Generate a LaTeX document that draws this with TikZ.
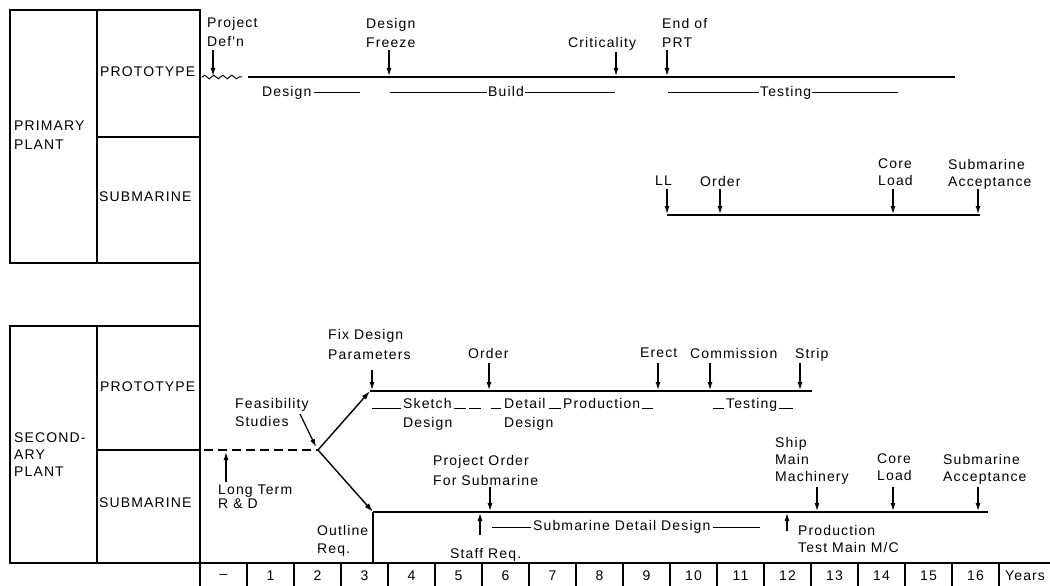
\documentclass[tikz,border=0pt]{standalone}
\usepackage{fontspec}
\newfontfamily\labfont[LetterSpace=8]{Liberation Sans}
\usetikzlibrary{arrows.meta,decorations.pathmorphing}
\begin{document}
\begin{tikzpicture}[x=1pt,y=-1pt,
  lab/.style={font=\labfont\fontsize{14}{19}\selectfont, inner sep=0pt, align=left, anchor=north west},
  labs/.style={lab, font=\labfont\fontsize{14}{17}\selectfont},
  labt/.style={lab, font=\labfont\fontsize{14}{14}\selectfont},
  dl/.style={lab, anchor=west, text height=9pt, text depth=2pt},
  bl/.style={lab, anchor=base west},
  tl/.style={line width=1.4pt},
  boxl/.style={line width=1.5pt},
  arr/.style={line width=1.2pt, -{Latex[length=8pt,width=5pt]}},
  ul/.style={line width=1pt},
  wave/.style={line width=1pt, decorate, decoration={snake, amplitude=1.8pt, segment length=9pt}}]
\useasboundingbox (0,0) rectangle (1050,586);

% ---------- left frame ----------
\draw[boxl] (10,10) rectangle (200,263);
\draw[boxl] (97,10) -- (97,263);
\draw[boxl] (97,137) -- (200,137);
\draw[boxl] (10,326) rectangle (200,563);
\draw[boxl] (97,326) -- (97,563);
\draw[boxl] (97,450) -- (200,450);
\draw[boxl] (200,10) -- (200,586);
\draw[boxl] (10,563) -- (1050,563);
\foreach \k in {1,...,17} \draw[boxl] (200+47*\k,563) -- (200+47*\k,586);

\node[lab, anchor=west] (pp) at (14,135) {PRIMARY\\PLANT};
\node[lab, anchor=west] (ppro) at (100,72) {PROTOTYPE};
\node[lab, anchor=west] (psub) at (99,197) {SUBMARINE};
\node[labs, anchor=west] (sp) at (14,455) {SECOND-\\ARY\\PLANT};
\node[lab, anchor=west] (spro) at (100,387) {PROTOTYPE};
\node[lab, anchor=west] (ssub) at (99,503) {SUBMARINE};

% ---------- time axis ----------
\foreach \t [count=\i from 0] in {–,1,2,3,4,5,6,7,8,9,10,11,12,13,14,15,16}
  \node[lab, anchor=center] (ax\i) at (223.5+47*\i,576) {\t};
\node[lab, anchor=west] (years) at (1005,576) {Years};

% ---------- primary / prototype ----------
\coordinate (w0) at (202,77); \coordinate (w1) at (242,77);
\coordinate (p0) at (248,77); \coordinate (p1) at (955,77);
\draw[wave] (w0) -- (w1);
\draw[tl] (p0) -- (p1);

\node[lab] (pdef) at (207,17) {Project\\Def'n};
\node[lab] (dfr) at (366,18) {Design\\Freeze};
\node[lab] (crit) at (568,37) {Criticality};
\node[lab] (eprt) at (662,18) {End of\\PRT};
\coordinate (a1) at (213,50); \coordinate (b1) at (213,76);
\coordinate (a2) at (389,50); \coordinate (b2) at (389,76);
\coordinate (a3) at (616,52); \coordinate (b3) at (616,76);
\coordinate (a4) at (667,50); \coordinate (b4) at (667,76);
\foreach \n in {1,2,3,4} \draw[arr] (a\n) -- (b\n);

\node[dl] (ldes) at (262,93) {Design};
\coordinate (ldesE) at (360,93);
\draw[ul] (ldes.east) ++(2,0) -- (ldesE);
\node[dl] (lbuild) at (488,93) {Build};
\coordinate (lbuildA) at (390,93); \coordinate (lbuildB) at (615,93);
\draw[ul] (lbuildA) -- ([xshift=-1pt]lbuild.west);
\draw[ul] ([xshift=1pt]lbuild.east) -- (lbuildB);
\node[dl] (ltest) at (760,93) {Testing};
\coordinate (ltestA) at (668,93); \coordinate (ltestB) at (898,93);
\draw[ul] (ltestA) -- ([xshift=-1pt]ltest.west);
\draw[ul] ([xshift=1pt]ltest.east) -- (ltestB);

% ---------- primary / submarine ----------
\coordinate (q0) at (667,215); \coordinate (q1) at (980,215);
\draw[tl] (q0) -- (q1);
\node[lab] (ll) at (655,176) {LL};
\node[lab] (pord) at (700,176) {Order};
\node[labs] (pcore) at (878,159) {Core\\Load};
\node[labs] (pacc) at (948,159) {Submarine\\Acceptance};
\coordinate (c1) at (667,189); \coordinate (d1) at (667,214);
\coordinate (c2) at (720,189); \coordinate (d2) at (720,214);
\coordinate (c3) at (893,189); \coordinate (d3) at (893,214);
\coordinate (c4) at (978,189); \coordinate (d4) at (978,214);
\foreach \n in {1,2,3,4} \draw[arr] (c\n) -- (d\n);

% ---------- secondary: branch ----------
\coordinate (dash0) at (204,450); \coordinate (br) at (318,450);
\draw[tl, dash pattern=on 9pt off 5pt] (dash0) -- (br);
\coordinate (lt0) at (226,482); \coordinate (lt1) at (226,452);
\draw[arr] (lt0) -- (lt1);
\node[labt] (ltrd) at (218,485) {Long Term\\R \& D};
\node[lab, font=\labfont\fontsize{14}{18}\selectfont] (feas) at (235,398) {Feasibility\\Studies};
\coordinate (fe0) at (300,414); \coordinate (fe1) at (316,447);
\draw[arr] (fe0) -- (fe1);
\coordinate (sp0) at (370,391); \coordinate (sp1) at (812,391);
\coordinate (ss0) at (373,512); \coordinate (ss1) at (988,512);
\draw[tl, -{Latex[length=9pt,width=5.5pt]}] (br) -- (sp0);
\draw[tl, -{Latex[length=9pt,width=5.5pt]}] (br) -- (ss0);

% ---------- secondary / prototype ----------
\draw[tl] (sp0) -- (sp1);
\node[lab, font=\labfont\fontsize{14}{20}\selectfont] (fix) at (328,329) {Fix Design\\Parameters};
\node[lab] (sord) at (468,348) {Order};
\node[lab] (erect) at (640,348) {Erect};
\node[lab] (comm) at (690,348) {Commission};
\node[lab] (strip) at (795,348) {Strip};
\coordinate (e1) at (372,370); \coordinate (f1) at (372,390);
\coordinate (e2) at (489,363); \coordinate (f2) at (489,390);
\coordinate (e3) at (658,363); \coordinate (f3) at (658,390);
\coordinate (e4) at (710,363); \coordinate (f4) at (710,390);
\coordinate (e5) at (800,363); \coordinate (f5) at (800,390);
\foreach \n in {1,...,5} \draw[arr] (e\n) -- (f\n);

\node[bl] (sk) at (403,408) {Sketch};
\node[bl] (skd) at (403,427) {Design};
\node[bl] (dt) at (504,408) {Detail};
\node[bl] (dtd) at (504,427) {Design};
\node[bl] (prod) at (563,408) {Production};
\node[bl] (stest) at (726,408) {Testing};
\draw[ul] ([xshift=-31pt]sk.base west) -- ([xshift=-2pt]sk.base west);
\draw[ul] ([xshift=2pt]sk.base east) -- ([xshift=14pt]sk.base east);
\draw[ul] ([xshift=17pt]sk.base east) -- ([xshift=29pt]sk.base east);
\draw[ul] ([xshift=-13pt]dt.base west) -- ([xshift=-3pt]dt.base west);
\draw[ul] ([xshift=-14pt]prod.base west) -- ([xshift=-2pt]prod.base west);
\draw[ul] ([xshift=2pt]prod.base east) -- ([xshift=13pt]prod.base east);
\draw[ul] ([xshift=-13pt]stest.base west) -- ([xshift=-2pt]stest.base west);
\draw[ul] ([xshift=2pt]stest.base east) -- ([xshift=16pt]stest.base east);

% ---------- secondary / submarine ----------
\draw[tl] (ss0) -- (ss1);
\coordinate (ol1) at (374,562);
\draw[tl] (ss0) -- (ss0 |- ol1);
\node[lab, font=\labfont\fontsize{14}{18}\selectfont] (outl) at (317,525) {Outline\\Req.};
\node[lab, font=\labfont\fontsize{14}{20}\selectfont] (porder) at (433,455) {Project Order\\For Submarine};
\node[lab] (staff) at (450,548) {Staff Req.};
\node[labs] (ship) at (775,437) {Ship\\Main\\Machinery};
\node[labs] (score) at (877,454) {Core\\Load};
\node[labs] (sacc) at (943,454) {Submarine\\Acceptance};
\node[labs] (ptest) at (798,525) {Production\\Test Main M/C};
\coordinate (g1) at (490,487); \coordinate (h1) at (490,511);
\coordinate (g2) at (817,487); \coordinate (h2) at (817,511);
\coordinate (g3) at (893,487); \coordinate (h3) at (893,511);
\coordinate (g4) at (978,487); \coordinate (h4) at (978,511);
\foreach \n in {1,...,4} \draw[arr] (g\n) -- (h\n);
\coordinate (u0) at (480,535); \coordinate (u1) at (480,513);
\coordinate (v0) at (787,531); \coordinate (v1) at (787,513);
\draw[arr] (u0) -- (u1);
\draw[arr] (v0) -- (v1);

\node[dl] (sdd) at (533,527) {Submarine Detail Design};
\coordinate (sddA) at (492,527); \coordinate (sddB) at (760,527);
\draw[ul] (sddA) -- ([xshift=-2pt]sdd.west);
\draw[ul] ([xshift=2pt]sdd.east) -- (sddB);
\end{tikzpicture}
\end{document}
